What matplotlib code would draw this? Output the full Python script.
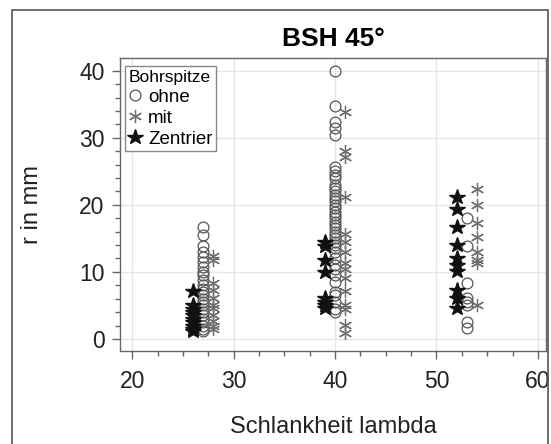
import matplotlib.pyplot as plt
from matplotlib.patches import Rectangle
from matplotlib.ticker import MultipleLocator

plt.rcParams['font.family'] = ['Liberation Sans', 'DejaVu Sans']

# ---- data -----------------------------------------------------------------
# Bohrspitze "ohne" (open circles)
ohne_x = [27] * 25 + [40] * 40 + [53] * 8
ohne_r = [16.7, 15.5, 13.8, 13.0, 12.2, 11.5, 10.8, 10.0, 9.5, 8.8, 8.0, 7.5,
          7.0, 6.5, 6.0, 5.5, 5.0, 4.5, 4.0, 3.5, 3.0, 2.5, 2.0, 1.5, 1.2,
          40.0, 34.7, 32.3, 31.4, 30.4, 25.6, 25.0, 24.5, 24.0, 23.0, 22.5,
          22.0, 21.5, 21.0, 20.5, 20.0, 19.5, 19.0, 18.5, 18.0, 17.5, 17.0,
          16.5, 16.0, 15.5, 15.0, 14.5, 14.0, 13.5, 13.0, 12.0, 11.0, 10.5,
          9.5, 8.5, 7.0, 6.5, 5.5, 4.5, 4.0,
          18.0, 13.8, 8.3, 6.1, 5.5, 5.0, 2.5, 1.6]

# Bohrspitze "mit" (asterisks)
mit_x = [28] * 11 + [41] * 15 + [54] * 8
mit_r = [12.4, 11.7, 8.4, 7.3, 6.1, 5.0, 4.6, 3.6, 2.6, 2.0, 1.5,
         33.9, 28.0, 27.2, 21.2, 15.6, 14.5, 13.0, 11.3, 10.4, 9.1, 7.2,
         5.0, 4.4, 2.1, 0.9,
         22.3, 20.0, 17.3, 15.2, 13.0, 11.8, 11.3, 5.1]

# Bohrspitze "Zentrier" (filled stars)
zen_x = [26] * 10 + [39] * 8 + [52] * 10
zen_r = [7.2, 5.0, 4.5, 4.0, 3.5, 3.0, 2.5, 2.0, 1.5, 1.2,
         14.5, 13.8, 11.8, 10.0, 6.1, 5.5, 5.0, 4.6,
         21.2, 19.4, 16.7, 14.0, 12.1, 11.0, 10.2, 7.3, 6.1, 4.6]

# ---- figure ----------------------------------------------------------------
fig = plt.figure(figsize=(5.51, 4.44), dpi=100)
ax = fig.add_axes([120 / 551, 93 / 444, 426 / 551, 293 / 444])

ax.plot(ohne_x, ohne_r, ls='none', marker='o', ms=7.8, mfc='none',
        mec='#555555', mew=0.9, label='ohne')
ax.plot(mit_x, mit_r, ls='none', marker=(6, 2, 0), ms=9.5,
        mec='#6e6e6e', mew=0.9, label='mit')
ax.plot(zen_x, zen_r, ls='none', marker='*', ms=11.5, mfc='#111111',
        mec='#111111', label='Zentrier')

ax.set_xlim(18.8, 60.8)
ax.set_ylim(-1.8, 41.9)
ax.xaxis.set_major_locator(MultipleLocator(10))
ax.xaxis.set_minor_locator(MultipleLocator(2.5))
ax.yaxis.set_major_locator(MultipleLocator(10))
ax.yaxis.set_minor_locator(MultipleLocator(2))
ax.tick_params(which='major', length=6, width=1, color='#666666',
               labelsize=16.5, labelcolor='#222222', pad=5)
ax.tick_params(which='minor', length=3.8, width=1, color='#666666')
ax.tick_params(axis='x', which='major', length=5.5, pad=8.5)
ax.grid(True, which='major', color='#e6e6e6', lw=1)
ax.set_axisbelow(True)
for sp in ax.spines.values():
    sp.set_color('#666666')
    sp.set_linewidth(1)

ax.set_title('BSH 45°', fontsize=19, fontweight='bold', pad=8.5)
ax.set_xlabel('Schlankheit lambda', fontsize=17, labelpad=16, color='#222222')
ax.set_ylabel('r in mm', fontsize=17, labelpad=26, color='#222222')

leg = ax.legend(title='Bohrspitze', loc='upper left', bbox_to_anchor=(0.002, 0.985),
                fontsize=13.5, title_fontsize=12.5, fancybox=False, framealpha=1,
                edgecolor='#888888', borderpad=0.2, labelspacing=0.2,
                handlelength=0.7, handletextpad=0.35, borderaxespad=0.2)
leg._legend_box.align = 'left'
leg.get_frame().set_linewidth(1)

# outer frame around the whole graphic
fig.patches.append(Rectangle((12 / 551, -0.2), 536 / 551, 1.2 - 10 / 444,
                             transform=fig.transFigure, fill=False,
                             ec='#555555', lw=1.2))

fig.savefig('out.png', dpi=100)
plt.close(fig)
